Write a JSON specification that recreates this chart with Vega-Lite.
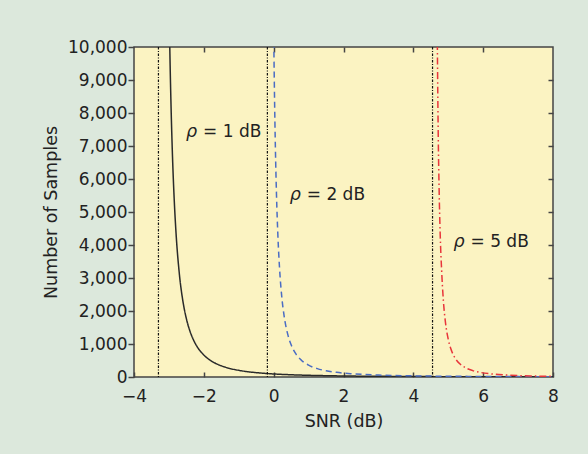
{
  "$schema": "https://vega.github.io/schema/vega-lite/v6.json",
  "width": 419,
  "height": 330,
  "autosize": {"type": "none"},
  "padding": {"left": 134, "top": 47, "right": 35, "bottom": 77},
  "background": "#dce8dc",
  "config": {
    "view": {"fill": "#fbf3c2", "stroke": "#444444", "strokeWidth": 1.5},
    "font": "DejaVu Sans",
    "axis": {
      "grid": false,
      "domain": false,
      "labelFlush": false,
      "labelFont": "DejaVu Sans",
      "titleFont": "DejaVu Sans",
      "labelFontSize": 17,
      "titleFontSize": 17.5,
      "titleFontWeight": "normal",
      "labelColor": "#222222",
      "titleColor": "#222222",
      "tickColor": "#444444",
      "tickWidth": 1.5
    }
  },
  "datasets": {
    "curves": [
      {"series": "rho1", "snr": -2.99, "n": 10940},
      {"series": "rho1", "snr": -2.97, "n": 9700},
      {"series": "rho1", "snr": -2.94, "n": 8250},
      {"series": "rho1", "snr": -2.9, "n": 6765},
      {"series": "rho1", "snr": -2.85, "n": 5416},
      {"series": "rho1", "snr": -2.8, "n": 4428},
      {"series": "rho1", "snr": -2.7, "n": 3112},
      {"series": "rho1", "snr": -2.6, "n": 2302},
      {"series": "rho1", "snr": -2.5, "n": 1767},
      {"series": "rho1", "snr": -2.4, "n": 1398},
      {"series": "rho1", "snr": -2.3, "n": 1131},
      {"series": "rho1", "snr": -2.2, "n": 933},
      {"series": "rho1", "snr": -2.0, "n": 664},
      {"series": "rho1", "snr": -1.8, "n": 495},
      {"series": "rho1", "snr": -1.6, "n": 382},
      {"series": "rho1", "snr": -1.4, "n": 303},
      {"series": "rho1", "snr": -1.2, "n": 245},
      {"series": "rho1", "snr": -1.0, "n": 202},
      {"series": "rho1", "snr": -0.7, "n": 155},
      {"series": "rho1", "snr": -0.4, "n": 123},
      {"series": "rho1", "snr": 0, "n": 92},
      {"series": "rho1", "snr": 0.5, "n": 68},
      {"series": "rho1", "snr": 1, "n": 51},
      {"series": "rho1", "snr": 1.5, "n": 40},
      {"series": "rho1", "snr": 2, "n": 31},
      {"series": "rho1", "snr": 3, "n": 21},
      {"series": "rho1", "snr": 4, "n": 14},
      {"series": "rho1", "snr": 5, "n": 10},
      {"series": "rho1", "snr": 6, "n": 7.4},
      {"series": "rho1", "snr": 7, "n": 5.6},
      {"series": "rho1", "snr": 8, "n": 4.2},
      {"series": "rho2", "snr": -0.01, "n": 11680},
      {"series": "rho2", "snr": 0.0, "n": 10588},
      {"series": "rho2", "snr": 0.02, "n": 8824},
      {"series": "rho2", "snr": 0.05, "n": 6906},
      {"series": "rho2", "snr": 0.08, "n": 5561},
      {"series": "rho2", "snr": 0.12, "n": 4312},
      {"series": "rho2", "snr": 0.17, "n": 3269},
      {"series": "rho2", "snr": 0.23, "n": 2453},
      {"series": "rho2", "snr": 0.3, "n": 1844},
      {"series": "rho2", "snr": 0.4, "n": 1306},
      {"series": "rho2", "snr": 0.5, "n": 977},
      {"series": "rho2", "snr": 0.65, "n": 679},
      {"series": "rho2", "snr": 0.8, "n": 502},
      {"series": "rho2", "snr": 1.0, "n": 359},
      {"series": "rho2", "snr": 1.25, "n": 253},
      {"series": "rho2", "snr": 1.5, "n": 189},
      {"series": "rho2", "snr": 1.8, "n": 141},
      {"series": "rho2", "snr": 2.2, "n": 101},
      {"series": "rho2", "snr": 2.6, "n": 76},
      {"series": "rho2", "snr": 3, "n": 59},
      {"series": "rho2", "snr": 4, "n": 35},
      {"series": "rho2", "snr": 5, "n": 23},
      {"series": "rho2", "snr": 6, "n": 16},
      {"series": "rho2", "snr": 7, "n": 11.7},
      {"series": "rho2", "snr": 8, "n": 8.5},
      {"series": "rho5", "snr": 4.67, "n": 13200},
      {"series": "rho5", "snr": 4.69, "n": 9834},
      {"series": "rho5", "snr": 4.71, "n": 7620},
      {"series": "rho5", "snr": 4.74, "n": 5600},
      {"series": "rho5", "snr": 4.77, "n": 4300},
      {"series": "rho5", "snr": 4.81, "n": 3240},
      {"series": "rho5", "snr": 4.86, "n": 2320},
      {"series": "rho5", "snr": 4.92, "n": 1655},
      {"series": "rho5", "snr": 5.0, "n": 1140},
      {"series": "rho5", "snr": 5.1, "n": 780},
      {"series": "rho5", "snr": 5.2, "n": 567},
      {"series": "rho5", "snr": 5.35, "n": 383},
      {"series": "rho5", "snr": 5.5, "n": 277},
      {"series": "rho5", "snr": 5.7, "n": 194},
      {"series": "rho5", "snr": 5.9, "n": 143},
      {"series": "rho5", "snr": 6.2, "n": 97},
      {"series": "rho5", "snr": 6.6, "n": 63},
      {"series": "rho5", "snr": 7.0, "n": 42},
      {"series": "rho5", "snr": 7.5, "n": 28},
      {"series": "rho5", "snr": 8, "n": 19}
    ],
    "walls": [
      {"wall": -3.3},
      {"wall": -0.18},
      {"wall": 4.55}
    ],
    "labels": [
      {"x": -2.51, "y": 7430, "sym": "ρ", "rest": "= 1 dB"},
      {"x": 0.46, "y": 5515, "sym": "ρ", "rest": "= 2 dB"},
      {"x": 5.15, "y": 4100, "sym": "ρ", "rest": "= 5 dB"}
    ]
  },
  "resolve": {"axis": {"x": "independent", "y": "independent"}},
  "layer": [
    {
      "data": {"name": "curves"},
      "mark": {"type": "line", "clip": true, "strokeWidth": 1.5, "interpolate": "monotone"},
      "encoding": {
        "x": {
          "field": "snr", "type": "quantitative",
          "scale": {"domain": [-4, 8], "nice": false, "zero": false},
          "axis": {"orient": "bottom", "values": [-4, -2, 0, 2, 4, 6, 8], "tickSize": -5, "labelPadding": 16, "title": "SNR (dB)", "titlePadding": 8}
        },
        "y": {
          "field": "n", "type": "quantitative",
          "scale": {"domain": [0, 10000], "nice": false},
          "axis": {"orient": "left", "values": [0, 1000, 2000, 3000, 4000, 5000, 6000, 7000, 8000, 9000, 10000], "format": ",d", "tickSize": 6, "labelPadding": 1, "title": "Number of Samples", "titlePadding": 7}
        },
        "color": {
          "field": "series", "type": "nominal", "legend": null,
          "scale": {"domain": ["rho1", "rho2", "rho5"], "range": ["#2a2a2a", "#4a6cc4", "#e8353b"]}
        },
        "strokeDash": {
          "field": "series", "type": "nominal", "legend": null,
          "scale": {"domain": ["rho1", "rho2", "rho5"], "range": [[1, 0], [6, 4], [7, 3, 1.5, 3]]}
        }
      }
    },
    {
      "data": {"name": "walls"},
      "mark": {"type": "rule", "color": "#111111", "strokeWidth": 1.2, "strokeDash": [2.5, 1.5, 1, 1.5]},
      "encoding": {
        "x": {
          "field": "wall", "type": "quantitative",
          "axis": {"orient": "top", "values": [-2, 0, 2, 4, 6], "tickSize": -5, "labels": false, "title": null}
        }
      }
    },
    {
      "data": {"name": "labels"},
      "mark": {"type": "text", "align": "left", "baseline": "middle", "fontSize": 17.5, "fontStyle": "italic", "color": "#222222", "font": "DejaVu Sans"},
      "encoding": {
        "x": {"field": "x", "type": "quantitative", "axis": null},
        "y": {
          "field": "y", "type": "quantitative",
          "axis": {"orient": "right", "values": [1000, 2000, 3000, 4000, 5000, 6000, 7000, 8000, 9000], "tickSize": -5, "labels": false, "title": null}
        },
        "text": {"field": "sym"}
      }
    },
    {
      "data": {"name": "labels"},
      "mark": {"type": "text", "align": "left", "baseline": "middle", "fontSize": 17, "dx": 17, "color": "#222222", "font": "DejaVu Sans"},
      "encoding": {
        "x": {"field": "x", "type": "quantitative", "axis": null},
        "y": {"field": "y", "type": "quantitative", "axis": null},
        "text": {"field": "rest"}
      }
    }
  ]
}
